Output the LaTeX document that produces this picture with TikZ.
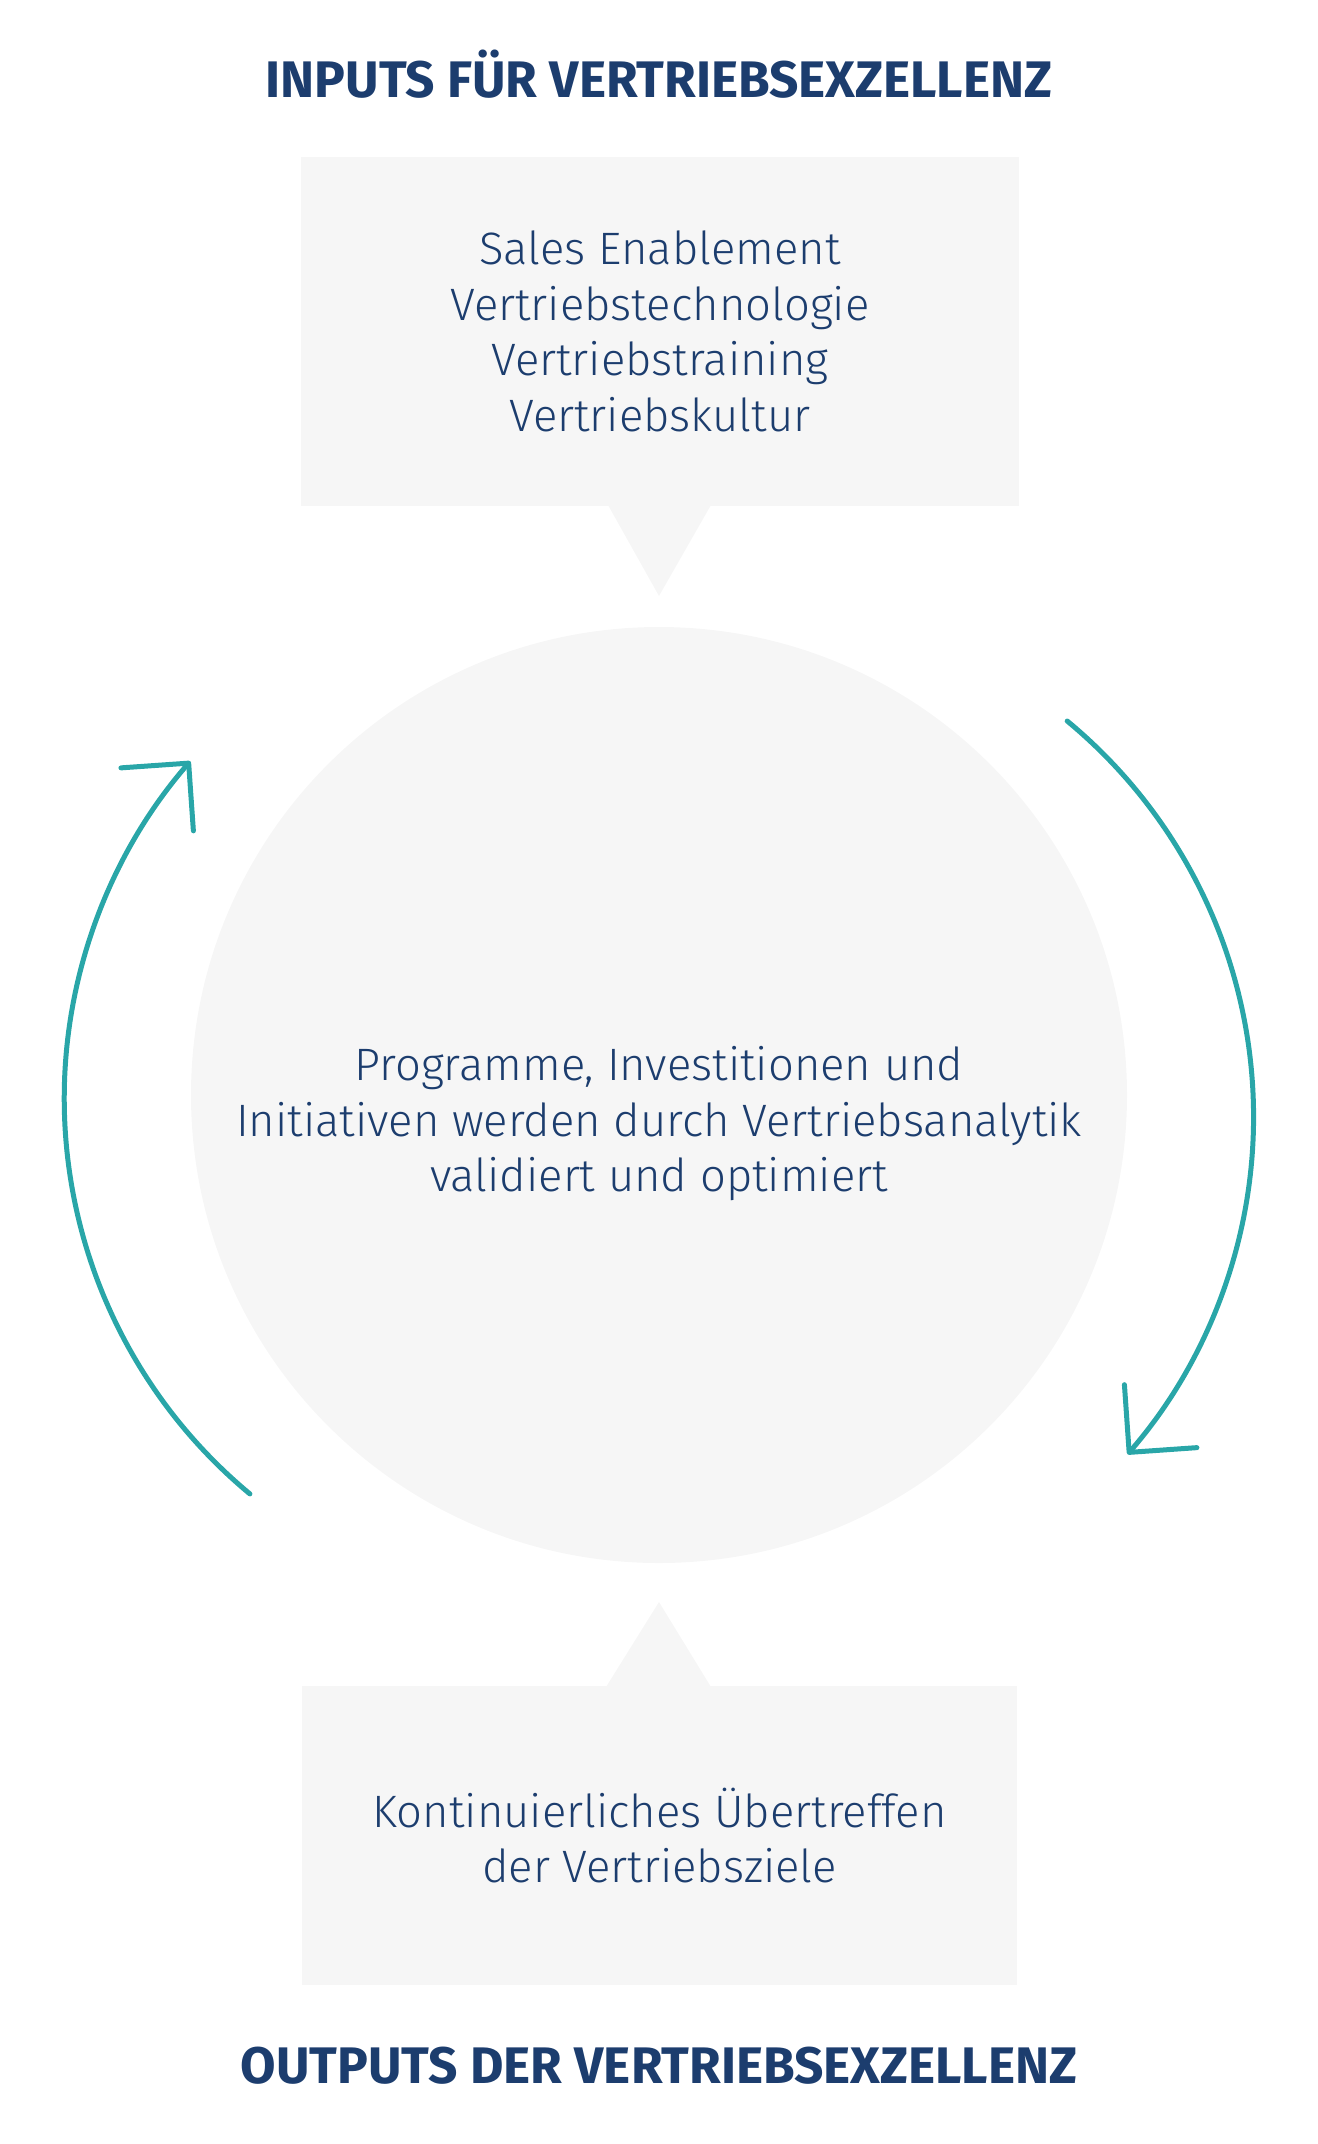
\documentclass[tikz,border=0pt]{standalone}
\usepackage{fontspec}
\setmainfont{Fira Sans Light}[BoldFont={Fira Sans Bold}]
\usetikzlibrary{arrows.meta,positioning}
\definecolor{navycol}{RGB}{28,61,110}
\definecolor{tealcol}{RGB}{41,166,168}
\definecolor{boxcol}{RGB}{246,246,246}

\begin{document}
\begin{tikzpicture}[
  x=0.5pt, y=0.5pt,
  head/.style={font=\fontsize{25.7}{30}\selectfont\bfseries, text=navycol},
  panel/.style={fill=boxcol, inner sep=0pt, text=navycol, align=center,
                font=\fontsize{22.7}{27.75}\selectfont},
  hubstyle/.style={circle, fill=boxcol, inner sep=0pt, minimum size=468pt},
  body/.style={font=\fontsize{22.7}{27.75}\selectfont, text=navycol, align=center},
  cyc/.style={draw=tealcol, line width=2.5pt, line cap=round, line join=round,
              -{Straight Barb[length=24pt,width=48pt,round]}},
]
\useasboundingbox (0,0) rectangle (1318,-2144);

% inputs
\node[head] (intitle) at (659,-74) {INPUTS FÜR VERTRIEBSEXZELLENZ};
\node[panel, minimum width=359pt, minimum height=174.5pt] (inbox) at (660,-331.5)
  {Sales Enablement\\Vertriebstechnologie\\Vertriebstraining\\Vertriebskultur};
\coordinate (inpeak) at (659,-596);
\fill[boxcol] (608,-505) -- (inpeak) -- (711,-505) -- cycle;

% analytics circle
\node[hubstyle] (hub) at (659,-1095) {};
\node[body] (hubtext) at (659,-1124)
  {Programme, Investitionen und\\Initiativen werden durch Vertriebsanalytik\\validiert und optimiert};

% outputs
\coordinate (outpeak) at (659,-1602);
\fill[boxcol] (606,-1687) -- (outpeak) -- (711,-1687) -- cycle;
\node[panel, minimum width=357.5pt, minimum height=149.5pt] (outbox) at (659.5,-1835.5)
  {Kontinuierliches Übertreffen\\der Vertriebsziele};
\node[head] (outtitle) at (659,-2066) {OUTPUTS DER VERTRIEBSEXZELLENZ};

% cycle arrows
\coordinate (lstart) at (249.9,-1493.9);
\coordinate (rstart) at (1067.2,-721);
\draw[cyc] (lstart) arc[start angle=230.3, end angle=139, radius=514];
\draw[cyc] (rstart) arc[start angle=50.4, end angle=-41, radius=514];
\end{tikzpicture}
\end{document}
